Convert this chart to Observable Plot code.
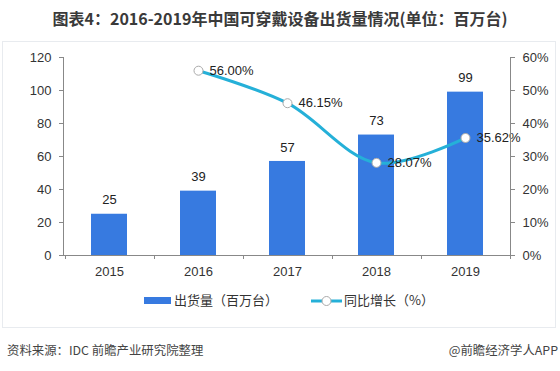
<!DOCTYPE html>
<html><head><meta charset="utf-8">
<script src="https://cdn.jsdelivr.net/npm/d3@7"></script>
<script src="https://cdn.jsdelivr.net/npm/@observablehq/plot@0.6"></script>
<style>
body{margin:0;width:560px;height:371px;background:#fff;position:relative;overflow:hidden;font-family:"Liberation Sans","Noto Sans CJK SC",sans-serif;color:#333}
#title{position:absolute;top:8px;left:0;width:560px;text-align:center;font:bold 16px "Noto Sans CJK SC",sans-serif;color:#3a3a3a;line-height:20px}
#panel{position:absolute;top:41px;left:2px;width:554px;height:287px;border:1px solid #e8ebef;box-sizing:border-box}
#chart{position:absolute;top:42px;left:0}
.leg{position:absolute;top:291px;font:13px "Noto Sans CJK SC",sans-serif;color:#333;line-height:18px}
#foot1{position:absolute;top:341px;left:7px;font:12.4px "Noto Sans CJK SC",sans-serif;color:#444;line-height:18px}
#foot2{position:absolute;top:341px;right:2px;font:12.4px "Noto Sans CJK SC",sans-serif;color:#444;line-height:18px}
</style></head>
<body>
<div id="title">图表4：2016-2019年中国可穿戴设备出货量情况(单位：百万台)</div>
<div id="panel"></div>
<div id="chart"></div>
<div class="leg" style="left:144px;top:297px;width:27px;height:7px;background:#377ae0"></div>
<div class="leg" style="left:174px">出货量（百万台）</div>
<svg class="leg" style="left:311px;top:294px" width="32" height="14"><line x1="0" y1="7" x2="31" y2="7" stroke="#25b0d8" stroke-width="3"/><circle cx="15.5" cy="7" r="4.5" fill="#fff" stroke="#aaa"/></svg>
<div class="leg" style="left:344px">同比增长（%）</div>
<div id="foot1">资料来源：IDC 前瞻产业研究院整理</div>
<div id="foot2">@前瞻经济学人APP</div>
<script>
const years = ["2015","2016","2017","2018","2019"];
const shipments = [25,39,57,73,99];
const growthYears = ["2016","2017","2018","2019"];
const growth = [56.00,46.15,28.07,35.62];
const leftTicks = [0,20,40,60,80,100,120];
const rightTickLabels = ["0%","10%","20%","30%","40%","50%","60%"];

const barColor = "#377ae0";
const lineColor = "#25b0d8";
const bars = years.map((y,i)=>({year:y, v:shipments[i]}));
const line = growthYears.map((y,i)=>({year:y, g:growth[i], gy:growth[i]*2}));
const font = "Liberation Sans, Noto Sans CJK SC, sans-serif";

const chart = Plot.plot({
  width:560, height:245,
  marginLeft:63, marginRight:50, marginTop:15, marginBottom:32,
  style:{fontFamily:font, fontSize:"13px", color:"#333", background:"transparent"},
  x:{type:"band", domain:years, paddingInner:0.6, paddingOuter:0.3, label:null},
  y:{domain:[0,120], label:null},
  marks:[
    Plot.barY(bars,{x:"year", y:"v", fill:barColor}),
    Plot.ruleY([0],{stroke:"#888"}),
    Plot.axisY({anchor:"left", ticks:leftTicks, tickSize:4, tickPadding:8, stroke:"#888", fill:"#333", fontSize:13, label:null}),
    Plot.axisY({anchor:"right", ticks:leftTicks, tickFormat:(d)=>rightTickLabels[leftTicks.indexOf(d)], tickSize:4, tickPadding:8, stroke:"#888", fill:"#333", fontSize:13, label:null}),
    Plot.axisX({tickSize:0, tickPadding:11, fill:"#333", fontSize:13, label:null}),
    Plot.text(bars,{x:"year", y:"v", text:d=>String(d.v), dy:-14, fill:"#222", fontSize:13}),
    Plot.line(line,{x:"year", y:"gy", curve:"catmull-rom", stroke:lineColor, strokeWidth:3}),
    Plot.dot(line,{x:"year", y:"gy", r:4.5, fill:"#fff", stroke:"#aaa", strokeWidth:1}),
    Plot.text(line,{x:"year", y:"gy", text:d=>d.g.toFixed(2)+"%", textAnchor:"start", dx:11, fill:"#222", fontSize:13})
  ]
});
document.getElementById("chart").appendChild(chart);

// axis lines and band-boundary ticks drawn from the scales
const xs = chart.scale("x"), ys = chart.scale("y");
const svg = d3.select(chart);
const [x0,x1] = xs.range, [yb,yt] = ys.range;
const g = svg.append("g").attr("stroke","#888").attr("stroke-width",1);
g.append("line").attr("x1",x0+0.5).attr("x2",x0+0.5).attr("y1",yt).attr("y2",yb);
g.append("line").attr("x1",x1+0.5).attr("x2",x1+0.5).attr("y1",yt).attr("y2",yb);
const step = xs.step;
const bounds = years.map(y=>xs.apply(y)+xs.bandwidth/2-step/2);
bounds.push(xs.apply(years[years.length-1])+xs.bandwidth/2+step/2);
bounds.forEach(b=>g.append("line").attr("x1",Math.round(b)+0.5).attr("x2",Math.round(b)+0.5).attr("y1",yb).attr("y2",yb+4));
</script>
</body></html>
